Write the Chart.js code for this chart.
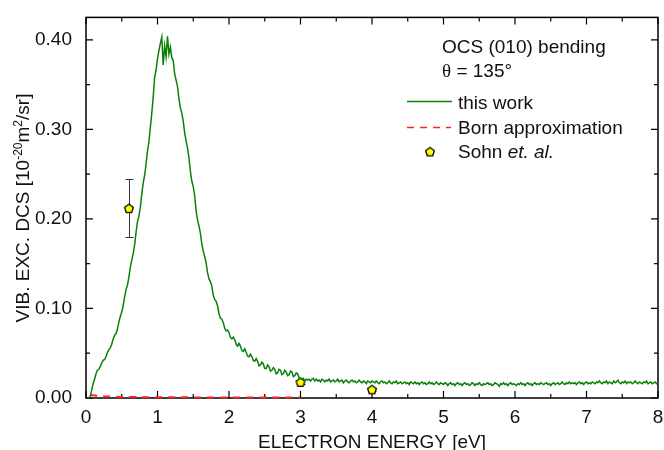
<!DOCTYPE html>
<html>
<head>
<meta charset="utf-8">
<script src="https://cdn.jsdelivr.net/npm/chart.js@4/dist/chart.umd.min.js"></script>
<style>
  html, body { margin: 0; padding: 0; background: #fff; }
  #wrap { width: 664px; height: 450px; }
</style>
</head>
<body>
<div id="wrap"><canvas id="chart" width="664" height="450"></canvas></div>
<script>
const ENERGY_START = 0.02;
const ENERGY_STEP = 0.02;
const thisWork = [
  0.000, 0.000, 0.002, 0.009, 0.016, 0.021, 0.027, 0.031, 0.032, 0.035, 0.039, 0.042, 0.043, 0.046, 0.051, 0.054, 0.056, 0.060, 0.066, 0.070,
  0.072, 0.077, 0.085, 0.091, 0.096, 0.103, 0.113, 0.121, 0.126, 0.135, 0.146, 0.154, 0.161, 0.171, 0.185, 0.197, 0.203, 0.213, 0.228, 0.240,
  0.249, 0.261, 0.276, 0.286, 0.302, 0.318, 0.336, 0.358, 0.366, 0.379, 0.388, 0.396, 0.403, 0.372, 0.393, 0.381, 0.404, 0.384, 0.392, 0.380,
  0.377, 0.362, 0.355, 0.348, 0.334, 0.324, 0.318, 0.309, 0.296, 0.287, 0.279, 0.268, 0.253, 0.242, 0.236, 0.226, 0.209, 0.199, 0.192, 0.184,
  0.172, 0.164, 0.158, 0.151, 0.140, 0.133, 0.130, 0.125, 0.115, 0.110, 0.108, 0.103, 0.094, 0.089, 0.088, 0.084, 0.078, 0.075, 0.076, 0.073,
  0.068, 0.066, 0.068, 0.065, 0.060, 0.058, 0.061, 0.058, 0.053, 0.052, 0.055, 0.051, 0.047, 0.046, 0.049, 0.046, 0.042, 0.041, 0.044, 0.041,
  0.036, 0.037, 0.040, 0.038, 0.033, 0.033, 0.037, 0.035, 0.030, 0.031, 0.034, 0.032, 0.027, 0.028, 0.032, 0.031, 0.026, 0.027, 0.031, 0.029,
  0.025, 0.026, 0.030, 0.029, 0.024, 0.025, 0.028, 0.027, 0.023, 0.022, 0.021, 0.022, 0.019, 0.021, 0.020, 0.021, 0.019, 0.021, 0.022, 0.019,
  0.021, 0.019, 0.020, 0.018, 0.021, 0.020, 0.018, 0.020, 0.019, 0.021, 0.018, 0.019, 0.020, 0.018, 0.019, 0.021, 0.018, 0.019, 0.020, 0.017,
  0.019, 0.020, 0.018, 0.017, 0.019, 0.020, 0.018, 0.019, 0.017, 0.018, 0.020, 0.018, 0.017, 0.019, 0.018, 0.016, 0.019, 0.018, 0.017, 0.019,
  0.018, 0.017, 0.019, 0.017, 0.016, 0.018, 0.019, 0.017, 0.018, 0.016, 0.017, 0.019, 0.017, 0.016, 0.018, 0.017, 0.019, 0.016, 0.017, 0.018,
  0.016, 0.017, 0.018, 0.016, 0.017, 0.015, 0.018, 0.017, 0.016, 0.018, 0.016, 0.017, 0.015, 0.017, 0.018, 0.016, 0.017, 0.015, 0.016, 0.018,
  0.016, 0.017, 0.015, 0.016, 0.018, 0.016, 0.015, 0.017, 0.016, 0.015, 0.017, 0.016, 0.014, 0.016, 0.017, 0.015, 0.016, 0.014, 0.016, 0.017,
  0.015, 0.016, 0.014, 0.016, 0.017, 0.015, 0.016, 0.014, 0.015, 0.017, 0.016, 0.014, 0.016, 0.015, 0.017, 0.015, 0.014, 0.016, 0.015, 0.016,
  0.017, 0.015, 0.016, 0.014, 0.015, 0.017, 0.016, 0.015, 0.013, 0.016, 0.015, 0.017, 0.015, 0.016, 0.014, 0.016, 0.017, 0.015, 0.016, 0.015,
  0.014, 0.016, 0.015, 0.017, 0.015, 0.016, 0.014, 0.016, 0.017, 0.015, 0.016, 0.014, 0.016, 0.017, 0.015, 0.016, 0.015, 0.017, 0.016, 0.015,
  0.016, 0.017, 0.015, 0.016, 0.014, 0.016, 0.017, 0.015, 0.016, 0.017, 0.015, 0.016, 0.018, 0.016, 0.015, 0.017, 0.016, 0.018, 0.016, 0.017,
  0.016, 0.017, 0.015, 0.017, 0.018, 0.016, 0.017, 0.015, 0.017, 0.018, 0.016, 0.017, 0.016, 0.018, 0.017, 0.016, 0.018, 0.017, 0.019, 0.017,
  0.016, 0.018, 0.017, 0.019, 0.016, 0.018, 0.017, 0.016, 0.019, 0.017, 0.018, 0.020, 0.017, 0.016, 0.018, 0.017, 0.019, 0.016, 0.018, 0.017,
  0.018, 0.016, 0.017, 0.019, 0.017, 0.016, 0.018, 0.017, 0.016, 0.018, 0.017, 0.019, 0.016, 0.017, 0.018, 0.016, 0.017, 0.018, 0.016, 0.017
];

const bornEnergy = [0.06, 0.10, 0.20, 0.30, 0.50, 0.75, 1.00, 1.50, 2.00, 2.50, 3.00];
const bornDcs = [0.0035, 0.0030, 0.0022, 0.0017, 0.0012, 0.0010, 0.0008, 0.0007, 0.0006, 0.0006, 0.0006];

const sohnEnergy = [0.6, 3.0, 4.0];
const sohnDcs = [0.212, 0.018, 0.0097];
const sohnErrLow = [0.180, 0.016, 0.008];
const sohnErrHigh = [0.244, 0.020, 0.011];

const xTicks = [0, 1, 2, 3, 4, 5, 6, 7, 8];
const yTicks = [0.0, 0.1, 0.2, 0.3, 0.4];

const FONT = '"Liberation Sans", Arial, sans-serif';
const SERIF = '"Liberation Serif", "Times New Roman", serif';
const INK = '#111';
const GREEN = '#0a800a';
const RED = '#ff2020';

Chart.defaults.font.family = FONT;
Chart.defaults.color = INK;

function pentagonImage(r) {
  const size = Math.ceil(r * 2 + 4);
  const c = document.createElement('canvas');
  c.width = size; c.height = size;
  const g = c.getContext('2d');
  const cx = size / 2, cy = size / 2 + 0.6;
  g.beginPath();
  for (let k = 0; k < 5; k++) {
    const a = -Math.PI / 2 + k * 2 * Math.PI / 5;
    const px = cx + r * Math.cos(a), py = cy + r * Math.sin(a);
    if (k) g.lineTo(px, py); else g.moveTo(px, py);
  }
  g.closePath();
  g.fillStyle = '#ffff00';
  g.fill();
  g.lineWidth = 1.3;
  g.strokeStyle = '#000';
  g.stroke();
  return c;
}
const pentagon = pentagonImage(4.6);

// frame with inward ticks on all four sides, error bars, legend and titles
const decorations = {
  id: 'decorations',
  beforeDatasetsDraw(chart) {
    const { ctx, chartArea: a, scales: { x, y } } = chart;
    ctx.save();
    ctx.strokeStyle = '#000';
    ctx.lineWidth = 1.5;
    ctx.strokeRect(a.left, a.top, a.right - a.left, a.bottom - a.top);

    ctx.lineWidth = 1.2;
    ctx.beginPath();
    for (let k = 0; k <= 16; k++) {
      const px = x.getPixelForValue(k * 0.5);
      const len = k % 2 === 0 ? 7 : 4;
      ctx.moveTo(px, a.bottom); ctx.lineTo(px, a.bottom - len);
      ctx.moveTo(px, a.top); ctx.lineTo(px, a.top + len);
    }
    for (let k = 0; k <= 8; k++) {
      const py = y.getPixelForValue(k * 0.05);
      const len = k % 2 === 0 ? 7 : 4;
      ctx.moveTo(a.left, py); ctx.lineTo(a.left + len, py);
      ctx.moveTo(a.right, py); ctx.lineTo(a.right - len, py);
    }
    ctx.stroke();
    ctx.restore();
  },
  beforeDatasetDraw(chart, args) {
    if (args.index !== 2) return;
    const { ctx, scales: { x, y } } = chart;
    ctx.save();
    ctx.strokeStyle = '#333';
    ctx.lineWidth = 1;
    sohnEnergy.forEach((e, i) => {
      const px = Math.round(x.getPixelForValue(e)) + 0.5;
      const top = Math.round(y.getPixelForValue(sohnErrHigh[i])) + 0.5;
      const bot = Math.round(y.getPixelForValue(sohnErrLow[i])) + 0.5;
      ctx.beginPath();
      ctx.moveTo(px, top); ctx.lineTo(px, bot);
      ctx.moveTo(px - 4, top); ctx.lineTo(px + 4, top);
      ctx.moveTo(px - 4, bot); ctx.lineTo(px + 4, bot);
      ctx.stroke();
    });
    ctx.restore();
  },
  afterDraw(chart) {
    const { ctx, chartArea: a } = chart;
    ctx.save();
    // annotation and legend
    ctx.fillStyle = INK;
    ctx.textBaseline = 'alphabetic';
    ctx.textAlign = 'left';
    ctx.font = '19px ' + FONT;
    ctx.fillText('OCS (010) bending', 442, 53);
    ctx.font = '19px ' + SERIF;
    ctx.fillText('\u03b8', 442, 77);
    const tw = ctx.measureText('\u03b8').width;
    ctx.font = '19px ' + FONT;
    ctx.fillText(' = 135\u00b0', 442 + tw, 77);

    ctx.lineWidth = 1.5;
    ctx.strokeStyle = GREEN;
    ctx.beginPath(); ctx.moveTo(407, 101.5); ctx.lineTo(452, 101.5); ctx.stroke();
    ctx.fillText('this work', 458, 109);

    ctx.strokeStyle = RED;
    ctx.setLineDash([7, 6]);
    ctx.beginPath(); ctx.moveTo(407, 127.5); ctx.lineTo(451, 127.5); ctx.stroke();
    ctx.setLineDash([]);
    ctx.fillText('Born approximation', 458, 134);

    ctx.drawImage(pentagon, 430 - pentagon.width / 2, 151.5 - pentagon.height / 2);
    ctx.fillText('Sohn ', 458, 158);
    const sw = ctx.measureText('Sohn ').width;
    ctx.font = 'italic 19px ' + FONT;
    ctx.fillText('et. al.', 458 + sw, 158);

    // x title
    ctx.font = '19px ' + FONT;
    ctx.textAlign = 'center';
    ctx.fillText('ELECTRON ENERGY [eV]', (a.left + a.right) / 2, 448);

    // y title with superscripts
    const parts = [
      ['VIB. EXC. DCS [10', false],
      ['-20', true],
      ['m', false],
      ['2', true],
      ['/sr]', false]
    ];
    const fontOf = sup => (sup ? '12px ' : '19px ') + FONT;
    let total = 0;
    parts.forEach(([t, sup]) => { ctx.font = fontOf(sup); total += ctx.measureText(t).width; });
    ctx.translate(28.5, 208);
    ctx.rotate(-Math.PI / 2);
    ctx.textAlign = 'left';
    let cx = -total / 2;
    parts.forEach(([t, sup]) => {
      ctx.font = fontOf(sup);
      ctx.fillText(t, cx, sup ? -7 : 0);
      cx += ctx.measureText(t).width;
    });
    ctx.restore();
  }
};

new Chart(document.getElementById('chart'), {
  type: 'line',
  data: {
    datasets: [
      {
        label: 'this work',
        data: thisWork.map((v, i) => ({ x: ENERGY_START + i * ENERGY_STEP, y: v })),
        borderColor: GREEN,
        borderWidth: 1.5,
        pointRadius: 0,
        tension: 0
      },
      {
        label: 'Born approximation',
        data: bornEnergy.map((e, i) => ({ x: e, y: bornDcs[i] })),
        borderColor: RED,
        borderDash: [7, 6],
        borderWidth: 2,
        pointRadius: 0,
        tension: 0.3,
        clip: false
      },
      {
        label: 'Sohn et. al.',
        data: sohnEnergy.map((e, i) => ({ x: e, y: sohnDcs[i] })),
        showLine: false,
        pointStyle: pentagon,
        pointRadius: 5,
        clip: false
      }
    ]
  },
  options: {
    responsive: false,
    animation: false,
    layout: { padding: { top: 13, right: 0, left: 0, bottom: 0 } },
    plugins: { legend: { display: false }, tooltip: { enabled: false } },
    scales: {
      x: {
        type: 'linear',
        min: 0,
        max: 8,
        grid: { display: false },
        border: { display: false },
        ticks: { font: { size: 19 }, color: INK, padding: 0, maxRotation: 0 },
        afterBuildTicks: s => { s.ticks = xTicks.map(v => ({ value: v })); },
        afterFit: s => { s.height = 52; }
      },
      y: {
        min: 0,
        max: 0.425,
        grid: { display: false },
        border: { display: false },
        ticks: { font: { size: 19 }, color: INK, padding: 6, callback: v => v.toFixed(2) },
        afterBuildTicks: s => { s.ticks = yTicks.map(v => ({ value: v })); },
        afterFit: s => { s.width = 86; }
      }
    }
  },
  plugins: [decorations]
});
</script>
</body>
</html>
